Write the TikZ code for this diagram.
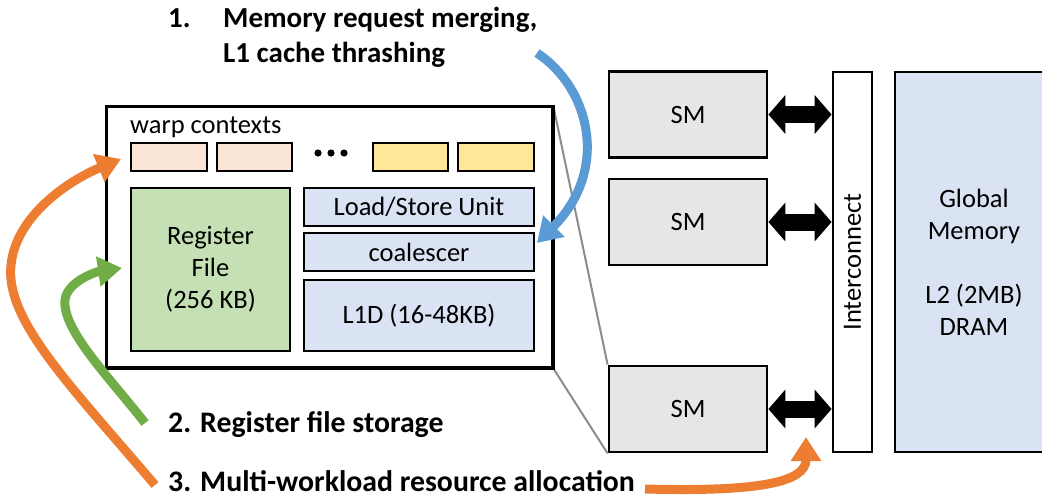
\documentclass[tikz,border=0pt]{standalone}
\usepackage{fontspec}
\setmainfont{Carlito}
\usetikzlibrary{arrows.meta}
\definecolor{smgray}{HTML}{E7E6E6}
\definecolor{memblue}{HTML}{DAE3F3}
\definecolor{regreen}{HTML}{C5E0B4}
\definecolor{warppeach}{HTML}{FBE5D6}
\definecolor{warpyellow}{HTML}{FFE699}
\definecolor{arrblue}{HTML}{5B9BD5}
\definecolor{arrorange}{HTML}{ED7D31}
\definecolor{arrgreen}{HTML}{70AD47}
\definecolor{zoomgray}{HTML}{8C8C8C}
\tikzset{
  txt/.style={font=\fontsize{26.5}{32}\selectfont},
  boldtxt/.style={font=\fontsize{29}{35}\selectfont\bfseries, inner sep=0pt},
  labeltxt/.style={font=\fontsize{29.8}{35}\selectfont\bfseries, inner sep=0pt},
  blk/.style={draw=black, line width=2.8pt, inner sep=0pt, txt},
  warpbox/.style={blk, minimum height=28pt},
  unitbox/.style={blk, fill=memblue, minimum width=230pt},
  smbox/.style={blk, fill=smgray, minimum width=158pt, minimum height=86pt},
  callout/.style={line width=9pt, -{Triangle[width=29pt,length=24pt]}},
  busarrow/.style={line width=17pt, {Triangle[width=38pt,length=17pt]}-{Triangle[width=38pt,length=17pt]}},
  zoomline/.style={draw=zoomgray, line width=2pt}
}
\begin{document}
\begin{tikzpicture}[x=1pt,y=-1pt]
\useasboundingbox (0,0) rectangle (1042,496);

% SM stack, interconnect and global memory
\node[smbox] (sm1) at (688,114.5) {SM};
\node[smbox] (sm2) at (688,222) {SM};
\node[smbox] (sm3) at (688,409) {SM};
\node[blk, fill=white, minimum width=39pt, minimum height=380pt] (ic) at (852.5,262) {};
\node[txt, rotate=90] (ictxt) at (ic.center) {Interconnect};
\fill[memblue] (895,72) rectangle (1050,452);
\draw[line width=2.8pt] (1050,72) -- (895,72) -- (895,452) -- (1050,452);
\coordinate (gmc) at (974,262);
\node[txt, align=center] (gmtxt) at (gmc) {Global\\Memory\\[32pt]L2 (2MB)\\DRAM};

% links between SMs and the interconnect
\draw[busarrow] (sm1.east) -- (sm1.east -| ic.west);
\draw[busarrow] (sm2.east) -- (sm2.east -| ic.west);
\draw[busarrow] (sm3.east) -- (sm3.east -| ic.west);

% enlarged view of one SM
\node[draw=black, line width=2.5pt, fill=white, minimum width=445pt, minimum height=260pt, inner sep=0pt] (main) at (329.5,237) {};
\draw[zoomline] (main.north east) -- (sm3.north west);
\draw[zoomline] (main.south east) -- (sm3.south west);
\draw[line width=2.5pt] (main.north east) rectangle (main.south west);

\node[txt, anchor=west, inner sep=0pt] (warptxt) at (130,127) {warp contexts};
\node[warpbox, fill=warppeach, minimum width=76pt] (w1) at (169,157) {};
\node[warpbox, fill=warppeach, minimum width=75pt] (w2) at (254.5,157) {};
\node[warpbox, fill=warpyellow, minimum width=75pt] (w3) at (410.5,157) {};
\node[warpbox, fill=warpyellow, minimum width=76pt] (w4) at (496,157) {};
\fill (318,153) circle (3.6pt) (331,153) circle (3.6pt) (344,153) circle (3.6pt);

\node[blk, fill=regreen, minimum width=159pt, minimum height=163pt, align=center] (rf) at (210.5,269.5) {Register\\File\\(256 KB)};
\node[unitbox, minimum height=38pt] (lsu) at (419,207) {Load/Store Unit};
\node[unitbox, minimum height=38pt] (coal) at (419,252) {coalescer};
\node[unitbox, minimum height=71pt] (l1d) at (419,315.5) {L1D (16-48KB)};

% numbered labels
\node[boldtxt, anchor=base west] (n1) at (168,27.5) {1.};
\node[boldtxt, anchor=base west] (t1a) at (223,27.5) {Memory request merging,};
\node[boldtxt, anchor=base west] (t1b) at (223,62.5) {L1 cache thrashing};
\node[labeltxt, anchor=base west] (t2) at (168,432) {2. Register file storage};
\node[labeltxt, anchor=base west] (t3) at (168,491.5) {3. Multi-workload resource allocation};

% callout arrows
\coordinate (b0) at (537,53);
\coordinate (btip) at (537,243);
\coordinate (o0) at (155,485);
\coordinate (otip) at (121,159);
\coordinate (g0) at (145,423);
\coordinate (gtip) at (122,268);
\coordinate (r0) at (645,489);
\coordinate (rtip) at (806,437);
\draw[callout, arrblue] (b0) .. controls (590,88) and (610,170) .. (btip);
\draw[callout, arrorange] (o0) .. controls (70,385) and (5,320) .. (11,265)
      .. controls (16,215) and (70,180) .. (otip);
\draw[callout, arrgreen] (g0) .. controls (110,378) and (62,330) .. (65,300)
      .. controls (67,282) and (95,272) .. (gtip);
\draw[callout, arrorange] (r0) .. controls (760,492) and (806,482) .. (rtip);
\end{tikzpicture}
\end{document}
